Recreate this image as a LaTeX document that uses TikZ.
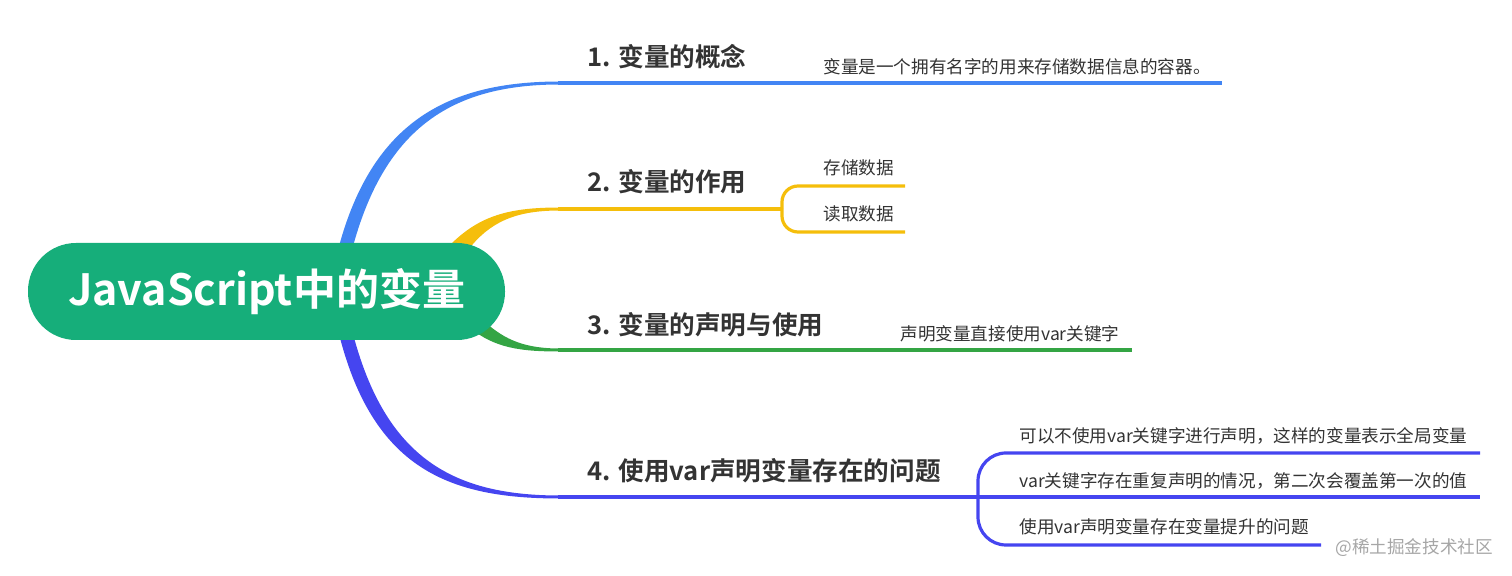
\documentclass[tikz,border=0pt]{standalone}
\usepackage{fontspec}
\setmainfont{Noto Sans CJK SC}
\newfontfamily\cjkb{Noto Sans CJK SC Bold}
\definecolor{cgreen}{HTML}{16AE7A}
\definecolor{cblue}{HTML}{4285F4}
\definecolor{cyel}{HTML}{F5BE0B}
\definecolor{cgr}{HTML}{34A544}
\definecolor{cpur}{HTML}{4545F0}
\definecolor{ctxt}{HTML}{333333}
\tikzset{
  lbl/.style={anchor=west, inner sep=0pt, text=ctxt, font=\cjkb\fontsize{12.8pt}{15pt}\selectfont},
  sub/.style={anchor=west, inner sep=0pt, text=ctxt, font=\fontsize{8.8pt}{10pt}\selectfont},
  br/.style={line width=1.6pt},
}
\begin{document}
\begin{tikzpicture}[x=0.5pt,y=-0.5pt]
\useasboundingbox (0,0) rectangle (1512,576);
% branches (tapered roots)
\fill[cblue] (338,250) .. controls (372,120) and (450,81.5) .. (560,81.5) -- (560,84.5) .. controls (455,84.5) and (385,125) .. (352,250) -- cycle;
\draw[br,cblue] (558,83) -- (1222,83);
\fill[cyel] (450,245) .. controls (480,215) and (510,207.5) .. (560,207.5) -- (560,210.5) .. controls (515,210.5) and (490,222) .. (468,250) -- cycle;
\draw[br,cyel] (558,209) -- (782,209);
\fill[cgr] (470,328) .. controls (495,348) and (520,351.5) .. (560,351.5) -- (560,348.5) .. controls (525,348.5) and (505,340) .. (485,322) -- cycle;
\draw[br,cgr] (558,350) -- (1132,350);
\fill[cpur] (338,330) .. controls (372,470) and (450,498.5) .. (560,498.5) -- (560,495.5) .. controls (455,495.5) and (385,460) .. (352,330) -- cycle;
\draw[br,cpur] (558,497) -- (978,497);
% central node
\node[fill=cgreen, rounded corners=24pt, minimum width=238.5pt, minimum height=48.5pt, inner sep=0pt, text=white, font=\cjkb\fontsize{21.5pt}{26pt}\selectfont] (root) at (266.5,291.5) {JavaScript中的变量};
% labels
\node[lbl] (b1) at (587,57) {1. 变量的概念};
\node[lbl] (b2) at (587,182) {2. 变量的作用};
\node[lbl] (b3) at (587,325) {3. 变量的声明与使用};
\node[lbl] (b4) at (587,471) {4. 使用var声明变量存在的问题};
\node[sub] (s1) at (823,67) {变量是一个拥有名字的用来存储数据信息的容器。};
\node[sub] (s21) at (823,168) {存储数据};
\node[sub] (s22) at (823,214) {读取数据};
\node[sub] (s3) at (900,334) {声明变量直接使用var关键字};
\node[sub] (s41) at (1019,436) {可以不使用var关键字进行声明，这样的变量表示全局变量};
\node[sub] (s42) at (1019,481) {var关键字存在重复声明的情况，第二次会覆盖第一次的值};
\node[sub] (s43) at (1019,527) {使用var声明变量存在变量提升的问题};
% sub branches
\coordinate (f2) at (782,209);
\draw[br,cyel,rounded corners=8pt] (f2) |- (905,186);
\draw[br,cyel,rounded corners=8pt] (f2) |- (905,232);
\coordinate (f4) at (978,497);
\draw[br,cpur,rounded corners=14pt] (f4) |- (1480,453);
\draw[br,cpur] (f4) -- (1480,497);
\draw[br,cpur,rounded corners=14pt] (f4) |- (1321,545);
\node[anchor=west, inner sep=0pt, text=black!35, font=\fontsize{8.8pt}{10pt}\selectfont] (wm) at (1335,548) {@稀土掘金技术社区};
\end{tikzpicture}
\end{document}
